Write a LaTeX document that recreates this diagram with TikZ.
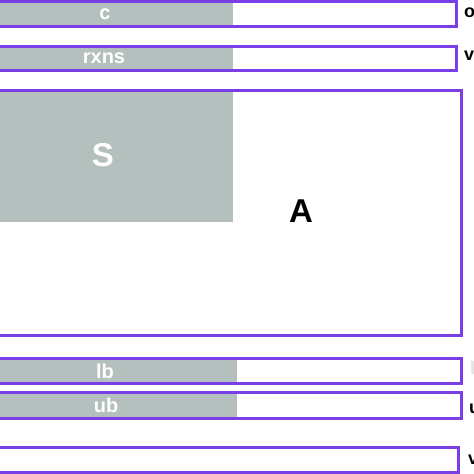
\documentclass[tikz,border=0pt]{standalone}
\usepackage{fontspec}
\setmainfont{Liberation Sans}
\definecolor{boxpurple}{RGB}{122,62,230}
\definecolor{fillgray}{RGB}{180,192,189}
\definecolor{faintgray}{RGB}{225,225,225}
\begin{document}
\begin{tikzpicture}[x=1pt,y=-1pt,
  frame/.style={draw=boxpurple,line width=3pt},
  grayfill/.style={fill=fillgray,draw=none},
  intext/.style={text=white,font=\bfseries\fontsize{20}{20}\selectfont,inner sep=0pt},
  bigtext/.style={font=\bfseries\fontsize{33}{33}\selectfont,inner sep=0pt},
  sidetext/.style={text=black,font=\bfseries\fontsize{18}{18}\selectfont,inner sep=0pt,anchor=west}]
\useasboundingbox (0,0) rectangle (474,474);
\clip (0,0) rectangle (474,474);
\fill[white] (0,0) rectangle (474,474);
% gray parts
\path[grayfill] (-10,1.5) rectangle (233,26);
\path[grayfill] (-10,46.5) rectangle (233,70.5);
\path[grayfill] (-10,90) rectangle (233,222);
\path[grayfill] (-10,358) rectangle (237,383);
\path[grayfill] (-10,392) rectangle (237,418);
% frames
\draw[frame] (-10,1.5) rectangle (456,26);
\draw[frame] (-10,46.5) rectangle (456,70.5);
\draw[frame] (-10,90) rectangle (461.5,335);
\draw[frame] (-10,358) rectangle (461.5,383);
\draw[frame] (-10,392.5) rectangle (461.5,418);
\draw[frame] (-10,447.5) rectangle (458.5,472.5);
% texts
\node[intext] (c) at (105,14) {c};
\node[intext] (rxns) at (104,58) {rxns};
\node[intext,font=\bfseries\fontsize{33}{33}\selectfont] (S) at (103,155) {S};
\node[bigtext] (A) at (301,211) {A};
\node[intext] (lb) at (105,371) {lb};
\node[intext] (ub) at (106,405) {ub};
\node[sidetext] (o) at (464,13) {o};
\node[sidetext] (v1) at (464,56) {v};
\node[sidetext,text=faintgray] (l) at (470,368) {l};
\node[sidetext] (u) at (469,409) {u};
\node[sidetext] (v2) at (468,460) {v};
\end{tikzpicture}
\end{document}
